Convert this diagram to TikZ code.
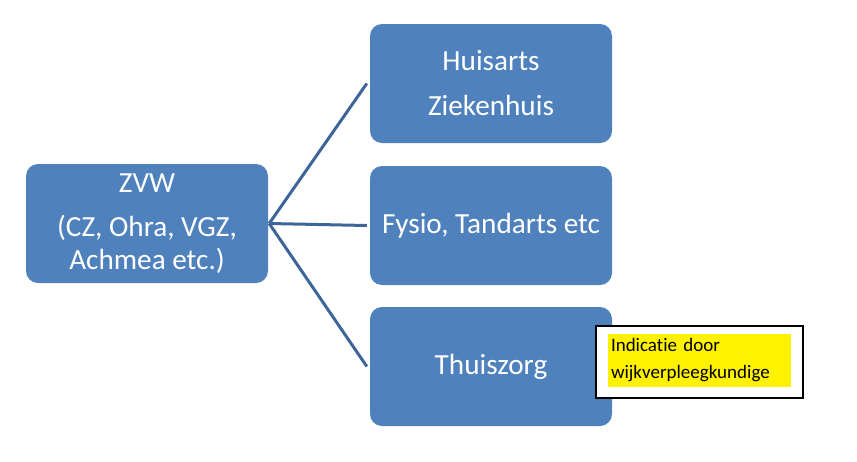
\documentclass[tikz,border=0pt]{standalone}
\usepackage{fontspec}
\setmainfont{Carlito}[Ligatures={NoCommon}]
\definecolor{boxblue}{HTML}{4F81BD}
\definecolor{lineblue}{HTML}{3D6597}
\begin{document}
\begin{tikzpicture}[x=1pt,y=-1pt,
  box/.style={fill=boxblue, rounded corners=12pt, text=white,
    font=\fontsize{29.2}{33}\selectfont, align=center, inner sep=0pt,
    minimum width=242pt, minimum height=119pt},
  link/.style={draw=lineblue, line width=3pt},
  callout/.style={draw=black, line width=1.2pt, fill=white, inner sep=0pt,
    minimum width=207pt, minimum height=72pt},
  note/.style={fill=yellow, inner xsep=3pt, inner ysep=0pt, text width=177pt,
    minimum height=53pt, align=left, font=\fontsize{19}{27}\selectfont}]
\useasboundingbox (0,0) rectangle (857,461);
\node[box] (zvw) at (147,223.5) {ZVW\\[11pt](CZ, Ohra, VGZ,\\Achmea etc.)};
\node[box] (huis) at (491,83.5) {Huisarts\\[12pt]Ziekenhuis};
\node[box] (fysio) at (491,225.5) {Fysio, Tandarts etc};
\node[box] (thuis) at (491,366.5) {Thuiszorg};
\coordinate (hub) at ([xshift=1pt]zvw.east);
\draw[link] (hub) -- ([xshift=-3pt]huis.west);
\draw[link] (hub) -- ([xshift=-3pt]fysio.west);
\draw[link] (hub) -- ([xshift=-3pt]thuis.west);
\node[callout] (call) at (699.5,362) {};
\node[note] (ind) at (699.5,360.5) {Indicatie door\\wijkverpleegkundige};
\end{tikzpicture}
\end{document}
